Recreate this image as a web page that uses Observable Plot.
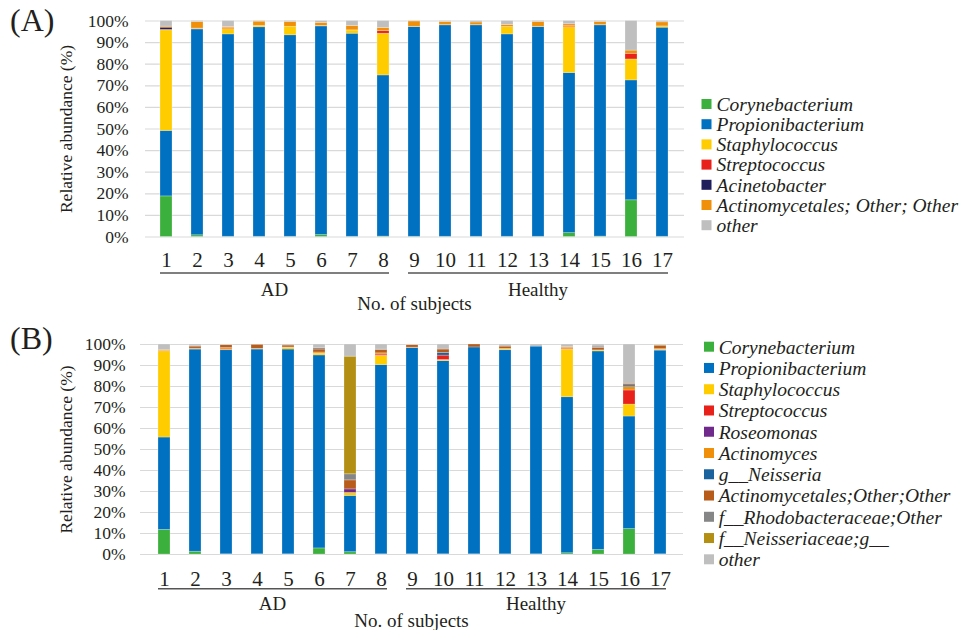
<!DOCTYPE html>
<html><head><meta charset="utf-8">
<script src="https://cdn.jsdelivr.net/npm/d3@7"></script>
<script src="https://cdn.jsdelivr.net/npm/@observablehq/plot@0.6"></script>
<style>
body{margin:0;background:#fff;}
#root{position:relative;width:963px;height:630px;overflow:hidden;}
.panel{position:absolute;left:0;}
</style></head><body><div id="root"></div>
<script>
const FONT = '"Liberation Serif","Times New Roman",serif';
const INK = "#231f20";

const subjects = ["1","2","3","4","5","6","7","8","9","10","11","12","13","14","15","16","17"];
const groups = [{name:"AD", from:"1", to:"8"}, {name:"Healthy", from:"9", to:"17"}];
const yTicks = [0,10,20,30,40,50,60,70,80,90,100];
const xTitle = "No. of subjects";
const yTitle = "Relative abundance (%)";

// ---------- Panel A ----------
const taxaA = ["Corynebacterium","Propionibacterium","Staphylococcus","Streptococcus","Acinetobacter","Actinomycetales; Other; Other","other"];
const colorsA = ["#3cb03c","#0070c0","#ffcc00","#e8221a","#1f1f5c","#f0900a","#bfbfbf"];
const corynebacteriumA = [18.8,0.8,0.1,0.1,0.1,0.9,0.1,0.2,0.1,0.1,0.1,0.1,0.1,1.8,0.2,17.0,0.1];
const propionibacteriumA = [30.3,95.3,93.7,97.0,93.3,96.6,94.0,74.6,97.1,97.9,97.9,93.7,97.1,74.1,97.8,55.5,96.8];
const staphylococcusA = [46.6,0.3,2.5,0.6,3.9,0.2,1.5,19.3,0.1,0.1,0.1,3.4,0.1,21.3,0.1,9.7,0.6];
const streptococcusA = [0.2,0.1,0.4,0,0,0,0.1,1.2,0,0,0,0,0,0.5,0,2.6,0];
const acinetobacterA = [1.0,0,0,0,0,0,0,0,0,0,0,0,0,0,0,0,0];
const actinomycetalesA = [0.5,3.0,0.5,2.0,2.2,1.4,2.0,1.5,2.5,1.4,1.2,0.9,2.2,0.8,1.4,1.5,1.9];
const otherA = [2.6,0.5,2.8,0.3,0.5,0.9,2.3,3.2,0.2,0.5,0.7,1.9,0.5,1.5,0.5,13.7,0.6];
const seriesA = [corynebacteriumA,propionibacteriumA,staphylococcusA,streptococcusA,acinetobacterA,actinomycetalesA,otherA];

// ---------- Panel B ----------
const taxaB = ["Corynebacterium","Propionibacterium","Staphylococcus","Streptococcus","Roseomonas","Actinomyces","g__Neisseria","Actinomycetales;Other;Other","f__Rhodobacteraceae;Other","f__Neisseriaceae;g__","other"];
const colorsB = ["#3cb03c","#0070c0","#ffcc00","#e8221a","#702a8c","#f0900a","#1b639e","#b85c1c","#868686","#b38f14","#bfbfbf"];
const corynebacteriumB = [11.7,1.3,0.1,0.1,0.1,2.9,1.1,0.1,0.1,0.1,0.1,0.1,0.1,0.6,2.2,12.1,0.1];
const propionibacteriumB = [44.0,96.3,97.2,97.5,97.5,91.9,26.8,90.1,98.2,92.0,98.5,97.2,98.9,74.3,94.5,53.6,97.0];
const staphylococcusB = [41.1,0.1,0.1,0.2,0.8,0.8,1.4,4.4,0,0.5,0,0.6,0,22.7,0.5,5.7,0.3];
const streptococcusB = [0.2,0,0.2,0,0,0,0,0.6,0,2.1,0,0,0,0.4,0,6.7,0];
const roseomonasB = [0,0,0,0,0,0,1.7,0,0,0,0,0,0,0,0,0,0];
const actinomycesB = [0.1,0.3,0.7,0.1,0.2,0.6,0,0.6,0.2,0,0,0,0,0.5,0,1.6,0.4];
const neisseriaB = [0,0,0,0,0,0,0,0,0,1.3,0,0,0,0,0,0.8,0];
const actinomycetalesB = [0.3,1.0,1.4,2.0,0.9,1.4,4.3,1.6,1.2,1.6,1.4,1.1,0,0.2,1.2,0.8,1.6];
const rhodobacteraceaeB = [0,0.2,0,0,0,0.8,2.9,0.2,0,0,0,0,0,0,0.6,0,0];
const neisseriaceaeB = [0,0,0,0,0,0,56.0,0,0,0,0,0,0,0,0,0,0.3];
const otherB = [2.6,0.8,0.3,0.1,0.5,1.6,5.8,2.4,0.3,2.4,0,1.0,1.0,1.3,1.0,18.7,0.3];
const seriesB = [corynebacteriumB,propionibacteriumB,staphylococcusB,streptococcusB,roseomonasB,actinomycesB,neisseriaB,actinomycetalesB,rhodobacteraceaeB,neisseriaceaeB,otherB];

function longData(taxa, series) {
  const rows = [];
  subjects.forEach((s, i) => {
    taxa.forEach((t, k) => rows.push({subject: s, taxon: t, value: series[k][i]}));
  });
  return rows;
}

function makePanel(c) {
  const data = longData(c.taxa, c.series);
  const W = 963;
  const plot = Plot.plot({
    width: W, height: c.height,
    marginLeft: c.ml, marginRight: c.mr, marginTop: c.mt, marginBottom: c.mb,
    style: {fontFamily: FONT, color: INK, background: "white", overflow: "visible"},
    x: {domain: subjects, paddingInner: c.padIn, paddingOuter: c.padOut, label: null},
    y: {domain: [0, 100], label: null},
    color: {domain: c.taxa, range: c.colors},
    marks: [
      Plot.gridY(yTicks, {stroke: "#d9d9d9", strokeOpacity: 1, strokeWidth: 1.2}),
      Plot.barY(data, {x: "subject", y: "value", fill: "taxon", stroke: "white", strokeOpacity: 0.3, strokeWidth: 0.8}),
      Plot.axisY(yTicks, {tickFormat: d => d + "%", tickSize: 0, tickPadding: c.yPad, fontSize: 17.5,
        label: yTitle, labelAnchor: "center", labelArrow: "none", labelOffset: c.labelOffset}),
      Plot.axisX({tickSize: 0, tickPadding: c.xPad, fontSize: 21, label: null}),
      Plot.ruleY(groups, {x1: "from", x2: "to", y: () => 0, dy: c.bracketDy, stroke: "#555", strokeWidth: 1.6})
    ]
  });
  const xs = plot.scale("x");
  const svg = d3.select(plot.tagName === "svg" ? plot : plot.querySelector("svg"));
  const y0 = c.height - c.mb;
  groups.forEach(g => {
    const a = xs.apply(g.from), b = xs.apply(g.to) + xs.bandwidth;
    svg.append("text").attr("x", (a + b) / 2).attr("y", y0 + c.groupDy)
      .attr("text-anchor", "middle").attr("font-size", 19).attr("font-family", FONT).attr("fill", INK).text(g.name);
  });
  svg.append("text").attr("x", (c.ml + W - c.mr) / 2).attr("y", y0 + c.titleDy)
    .attr("text-anchor", "middle").attr("font-size", 19).attr("font-family", FONT).attr("fill", INK).text(xTitle);
  svg.append("text").attr("x", c.labelX).attr("y", c.labelY).attr("text-anchor", "start")
    .attr("font-size", 32).attr("font-family", FONT).attr("fill", INK).text(c.label);
  const lg = svg.append("g").attr("text-anchor", "start");
  c.taxa.forEach((t, k) => {
    const cy = c.legY0 + k * c.legStep;
    lg.append("rect").attr("x", c.legX).attr("y", cy - 5).attr("width", 10).attr("height", 10).attr("fill", c.colors[k]);
    lg.append("text").attr("x", c.legTextX).attr("y", cy).attr("dy", "0.35em").attr("text-anchor", "start")
      .attr("font-size", 19.5).attr("font-style", "italic").attr("font-family", FONT).attr("fill", INK).text(t);
  });
  const div = document.createElement("div");
  div.className = "panel";
  div.style.top = c.top + "px";
  div.appendChild(plot);
  document.getElementById("root").appendChild(div);
}

makePanel({
  taxa: taxaA, colors: colorsA, series: seriesA, top: 0, height: 315,
  ml: 145, mr: 279, mt: 20.5, mb: 78.5, padIn: 0.6, padOut: 0.285,
  yPad: 17, xPad: 15, labelOffset: 86, bracketDy: 36, groupDy: 59.5, titleDy: 73,
  label: "(A)", labelX: 10, labelY: 31,
  legX: 701.5, legTextX: 716.5, legY0: 104, legStep: 20.2
});
makePanel({
  taxa: taxaB, colors: colorsB, series: seriesB, top: 315, height: 315,
  ml: 140, mr: 280, mt: 29, mb: 76, padIn: 0.614, padOut: 0.316,
  yPad: 15, xPad: 17, labelOffset: 81, bracketDy: 34.3, groupDy: 56, titleDy: 73,
  label: "(B)", labelX: 10, labelY: 34,
  legX: 704, legTextX: 718.7, legY0: 31.7, legStep: 21.26
});
</script></body></html>
